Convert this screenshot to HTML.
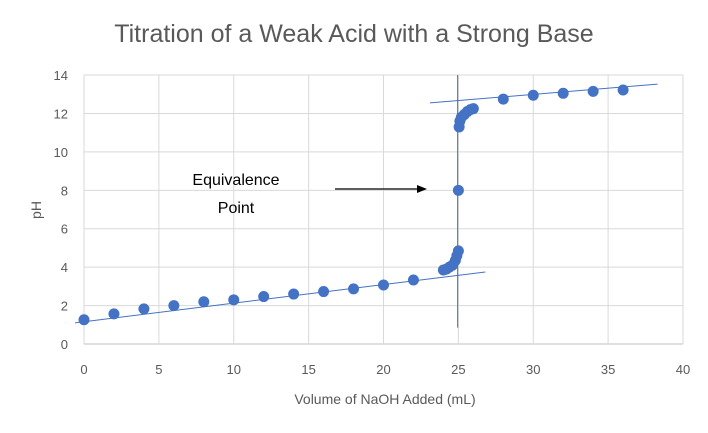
<!DOCTYPE html>
<html><head><meta charset="utf-8"><style>
body{margin:0;background:#fff;font-family:"Liberation Sans",sans-serif}
svg text{font-family:"Liberation Sans",sans-serif;fill:#595959}
</style></head><body>
<svg width="708" height="428">
<text x="354" y="42" font-size="25" text-anchor="middle">Titration of a Weak Acid with a Strong Base</text>
<g id="grid"></g><g id="axes"></g><g id="marks"></g>
<text x="385" y="404" font-size="14" text-anchor="middle">Volume of NaOH Added (mL)</text>
<text transform="translate(41,210) rotate(-90)" font-size="14" text-anchor="middle">pH</text>
<text x="236" y="185" font-size="16" style="fill:#000" text-anchor="middle">Equivalence</text>
<text x="236" y="213" font-size="16" style="fill:#000" text-anchor="middle">Point</text>
<line x1="335" y1="189" x2="418" y2="189" stroke="#000" stroke-width="1.2"/>
<polygon points="427,189 417,185 417,193" fill="#000"/>
</svg>
<script>
const xTicks=[0,5,10,15,20,25,30,35,40];
const yTicks=[0,2,4,6,8,10,12,14];
const volumes=[0,2,4,6,8,10,12,14,16,18,20,22,24,24.2,24.4,24.6,24.8,24.9,25,25,25.05,25.1,25.2,25.4,25.6,25.8,26,28,30,32,34,36];
const phValues=[1.26,1.57,1.83,2.0,2.2,2.3,2.47,2.6,2.73,2.87,3.07,3.33,3.85,3.9,4.0,4.1,4.35,4.6,4.85,8.0,11.3,11.6,11.8,11.95,12.1,12.2,12.25,12.75,12.95,13.05,13.15,13.22];
const lowerFit=[[-0.6,1.1],[26.8,3.75]];
const upperFit=[[23.1,12.55],[38.3,13.53]];
const vertFit=[[24.95,14.0],[24.95,0.85]];
const X=v=>84+v*14.975, Y=v=>344-v*19.21;
const NS="http://www.w3.org/2000/svg";
function mk(p,t,a){const e=document.createElementNS(NS,t);for(const k in a)e.setAttribute(k,a[k]);document.getElementById(p).appendChild(e);return e;}
yTicks.forEach(t=>{
 const l=mk('grid','line',{x1:84,x2:683,y1:Y(t),y2:Y(t),stroke:t===0?'#bfbfbf':'#d9d9d9','stroke-width':1});
 
 
 const tx=mk('axes','text',{x:68,y:Y(t)+5,'font-size':13,'text-anchor':'end'});tx.textContent=t;
 
 
});
xTicks.forEach(t=>{
 const l=mk('grid','line',{x1:X(t),x2:X(t),y1:Y(14),y2:Y(0),stroke:'#d9d9d9','stroke-width':1});
 
 
 const tx=mk('axes','text',{x:X(t),y:374,'font-size':13,'text-anchor':'middle'});tx.textContent=t;
 
 
});
[lowerFit,upperFit,vertFit].forEach(f=>{
 const l=mk('marks','line',{x1:X(f[0][0]),y1:Y(f[0][1]),x2:X(f[1][0]),y2:Y(f[1][1]),stroke:'#4472c4','stroke-width':1});
 
 
});
volumes.forEach((v,i)=>{
 const c=mk('marks','circle',{cx:X(v),cy:Y(phValues[i]),r:5.5,fill:'#4472c4'});
 
 
});
</script>
</body></html>
